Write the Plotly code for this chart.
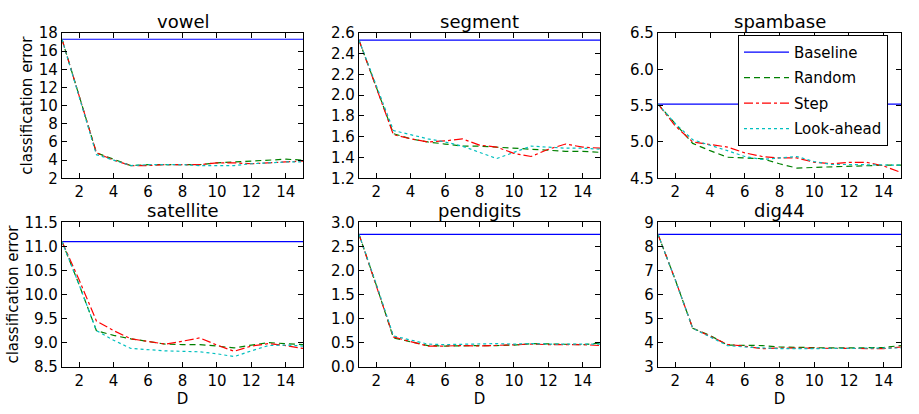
import plotly.graph_objects as go

D = list(range(1, 16))

titles = ["vowel", "segment", "spambase", "satellite", "pendigits", "dig44"]

vowel_baseline = 17.3
vowel_random = [17.3, 11.0, 4.8, 4.1, 3.4, 3.5, 3.5, 3.5, 3.5, 3.7, 3.8, 3.9, 4.0, 4.1, 4.0]
vowel_step = [17.3, 11.0, 4.8, 4.0, 3.4, 3.4, 3.5, 3.5, 3.5, 3.7, 3.7, 3.6, 3.7, 3.8, 3.9]
vowel_look = [17.3, 11.0, 4.6, 4.0, 3.4, 3.5, 3.5, 3.5, 3.4, 3.4, 3.4, 3.6, 3.7, 3.8, 3.8]

segment_baseline = 2.53
segment_random = [2.53, 2.08, 1.63, 1.58, 1.55, 1.53, 1.51, 1.51, 1.50, 1.49, 1.48, 1.47, 1.46, 1.46, 1.45]
segment_step = [2.53, 2.08, 1.62, 1.58, 1.55, 1.56, 1.58, 1.52, 1.50, 1.44, 1.41, 1.48, 1.53, 1.50, 1.49]
segment_look = [2.53, 2.10, 1.66, 1.62, 1.58, 1.55, 1.51, 1.45, 1.39, 1.45, 1.51, 1.50, 1.49, 1.49, 1.48]

spambase_baseline = 5.52
spambase_random = [5.52, 5.25, 4.98, 4.88, 4.79, 4.78, 4.77, 4.70, 4.64, 4.65, 4.66, 4.67, 4.68, 4.68, 4.68]
spambase_step = [5.52, 5.22, 5.00, 4.97, 4.93, 4.85, 4.80, 4.78, 4.78, 4.72, 4.70, 4.72, 4.72, 4.67, 4.58]
spambase_look = [5.52, 5.25, 5.03, 4.96, 4.88, 4.80, 4.76, 4.78, 4.80, 4.73, 4.69, 4.69, 4.69, 4.68, 4.68]

satellite_baseline = 11.1
satellite_random = [11.1, 10.2, 9.25, 9.15, 9.08, 9.03, 8.97, 8.96, 8.96, 8.93, 8.89, 8.95, 9.00, 8.98, 8.96]
satellite_step = [11.1, 10.3, 9.45, 9.25, 9.08, 9.03, 8.97, 9.03, 9.10, 8.95, 8.82, 8.93, 8.98, 8.94, 8.88]
satellite_look = [11.1, 10.2, 9.25, 9.05, 8.88, 8.85, 8.83, 8.82, 8.81, 8.77, 8.71, 8.83, 8.94, 8.95, 8.93]

pendigits_baseline = 2.75
pendigits_random = [2.75, 1.70, 0.60, 0.52, 0.44, 0.43, 0.44, 0.44, 0.44, 0.45, 0.48, 0.47, 0.46, 0.46, 0.49]
pendigits_step = [2.75, 1.70, 0.62, 0.52, 0.43, 0.43, 0.44, 0.43, 0.44, 0.45, 0.47, 0.46, 0.46, 0.46, 0.44]
pendigits_look = [2.75, 1.72, 0.64, 0.55, 0.47, 0.46, 0.47, 0.47, 0.48, 0.47, 0.48, 0.47, 0.47, 0.47, 0.47]

dig44_baseline = 8.5
dig44_random = [8.5, 6.6, 4.6, 4.3, 3.90, 3.88, 3.88, 3.82, 3.80, 3.80, 3.78, 3.78, 3.80, 3.80, 3.88]
dig44_step = [8.5, 6.6, 4.6, 4.25, 3.93, 3.85, 3.75, 3.78, 3.78, 3.78, 3.75, 3.78, 3.78, 3.75, 3.82]
dig44_look = [8.5, 6.6, 4.6, 4.25, 3.88, 3.82, 3.78, 3.75, 3.75, 3.75, 3.75, 3.75, 3.75, 3.75, 3.78]

baselines = [vowel_baseline, segment_baseline, spambase_baseline, satellite_baseline, pendigits_baseline, dig44_baseline]
randoms = [vowel_random, segment_random, spambase_random, satellite_random, pendigits_random, dig44_random]
steps = [vowel_step, segment_step, spambase_step, satellite_step, pendigits_step, dig44_step]
looks = [vowel_look, segment_look, spambase_look, satellite_look, pendigits_look, dig44_look]

y_ranges = [(2, 18), (1.2, 2.6), (4.5, 6.5), (8.5, 11.5), (0, 3), (3, 9)]
y_dticks = [2, 0.2, 0.5, 0.5, 0.5, 1]
y_formats = ["d", ".1f", ".1f", ".1f", ".1f", "d"]

W, H = 919, 414
col_px = [(62, 303), (359, 600), (658, 901)]
row_px = [(25, 177), (223, 374)]

FONT = "DejaVu Sans"
fig = go.Figure()

for i in range(6):
    r, c = divmod(i, 3)
    xa = "x" if i == 0 else f"x{i+1}"
    ya = "y" if i == 0 else f"y{i+1}"
    show = i == 0
    fig.add_trace(go.Scatter(x=[D[0], D[-1]], y=[baselines[i]] * 2, mode="lines",
                             line=dict(color="#0000ff", width=1.2), name="Baseline",
                             legendgroup="b", showlegend=show, xaxis=xa, yaxis=ya))
    fig.add_trace(go.Scatter(x=D, y=randoms[i], mode="lines",
                             line=dict(color="#008000", width=1.2, dash="6px,4px"), name="Random",
                             legendgroup="r", showlegend=show, xaxis=xa, yaxis=ya))
    fig.add_trace(go.Scatter(x=D, y=steps[i], mode="lines",
                             line=dict(color="#ff0000", width=1.2, dash="dashdot"), name="Step",
                             legendgroup="s", showlegend=show, xaxis=xa, yaxis=ya))
    fig.add_trace(go.Scatter(x=D, y=looks[i], mode="lines",
                             line=dict(color="#00bfbf", width=1.2, dash="dot"), name="Look-ahead",
                             legendgroup="l", showlegend=show, xaxis=xa, yaxis=ya))

    x0, x1 = col_px[c]
    y0, y1 = row_px[r]
    axcommon = dict(showline=True, linecolor="black", linewidth=1.3, mirror="ticks",
                    ticks="inside", ticklen=5, tickcolor="black", showgrid=False, zeroline=False,
                    tickfont=dict(family=FONT, size=15, color="black"))
    xkey = "xaxis" if i == 0 else f"xaxis{i+1}"
    ykey = "yaxis" if i == 0 else f"yaxis{i+1}"
    fig.layout[xkey] = dict(domain=[x0 / W, x1 / W], anchor=ya, range=[1, 15],
                            tickvals=[2, 4, 6, 8, 10, 12, 14],
                            title=dict(text="D" if r == 1 else "", font=dict(family=FONT, size=15, color="black"), standoff=1),
                            **axcommon)
    lo, hi = y_ranges[i]
    fig.layout[ykey] = dict(domain=[1 - y1 / H, 1 - y0 / H], anchor=xa, range=[lo, hi],
                            dtick=y_dticks[i], tick0=lo, tickformat=y_formats[i],
                            title=dict(text="classification error" if c == 0 else "",
                                       font=dict(family=FONT, size=15, color="black"), standoff=2),
                            **axcommon)
    fig.add_annotation(text=titles[i], x=(x0 + x1) / 2 / W, y=1 - y0 / H, xref="paper", yref="paper",
                       xanchor="center", yanchor="bottom", showarrow=False, borderpad=0,
                       font=dict(family=FONT, size=18, color="black"))

fig.update_layout(
    width=W, height=H, margin=dict(l=0, r=0, t=0, b=0),
    paper_bgcolor="white", plot_bgcolor="white",
    font=dict(family=FONT, size=15, color="black"),
    legend=dict(x=738 / W, y=1 - 27 / H, xanchor="left", yanchor="top",
                bgcolor="white", bordercolor="black", borderwidth=1,
                font=dict(family=FONT, size=15, color="black"), itemwidth=45,
                tracegroupgap=3),
)

fig.write_html("out.html")
